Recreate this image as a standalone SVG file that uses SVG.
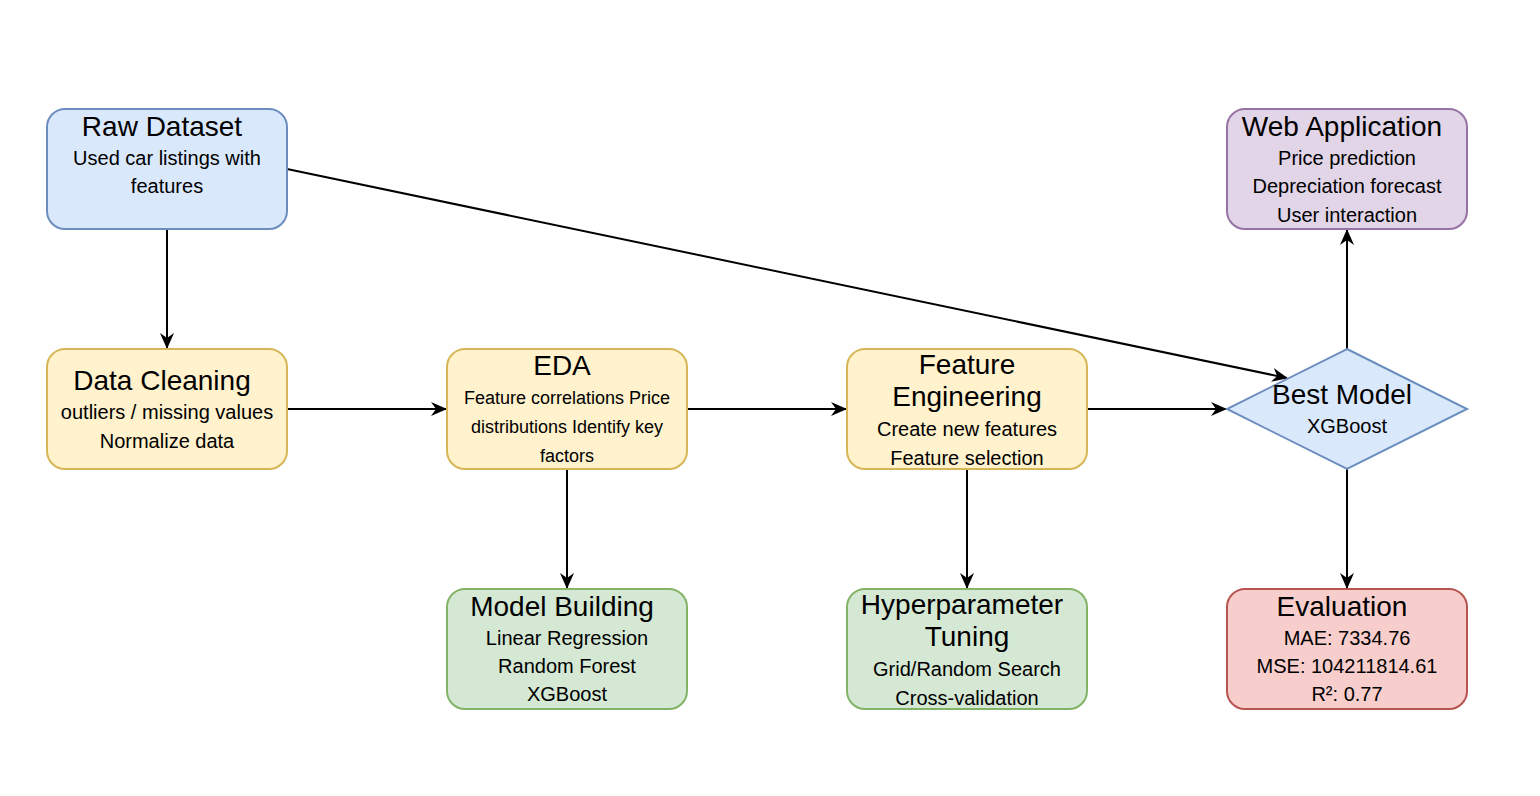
<svg xmlns="http://www.w3.org/2000/svg" width="1540" height="796" viewBox="0 0 1540 796">
<defs>
<style>
.t{font-family:"Liberation Sans",Arial,Helvetica,sans-serif;font-size:28px;fill:#000;text-anchor:middle}
.s{font-family:"Liberation Sans",Arial,Helvetica,sans-serif;font-size:20px;fill:#000;text-anchor:middle}
.s18{font-size:18px}
.blue{fill:#dae8fc;stroke:#6c8ebf;stroke-width:2}
.yel{fill:#fff2cc;stroke:#d6b656;stroke-width:2}
.grn{fill:#d5e8d4;stroke:#82b366;stroke-width:2}
.pur{fill:#e1d5e7;stroke:#9673a6;stroke-width:2}
.red{fill:#f8cecc;stroke:#b85450;stroke-width:2}
.e{fill:none;stroke:#000;stroke-width:2;marker-end:url(#arr)}
</style>
<marker id="arr" viewBox="0 0 16 14" refX="15" refY="7" markerWidth="16" markerHeight="14" markerUnits="userSpaceOnUse" orient="auto">
<path d="M0,0 L16,7 L0,14 L5,7 Z" fill="#000"/>
</marker>
</defs>
<rect width="1540" height="796" fill="#fff"/>
<g id="edges">
<path class="e" d="M167,229 L167,348"/>
<path class="e" d="M287,169 L1287,378"/>
<path class="e" d="M287,409 L446,409"/>
<path class="e" d="M687,409 L846,409"/>
<path class="e" d="M1087,409 L1226,409"/>
<path class="e" d="M567,469 L567,588"/>
<path class="e" d="M967,469 L967,588"/>
<path class="e" d="M1347,349 L1347,230"/>
<path class="e" d="M1347,469 L1347,588"/>
</g>
<g id="raw">
<rect class="blue" x="47" y="109" width="240" height="120" rx="18"/>
<text class="t" x="162" y="136">Raw Dataset</text>
<text class="s" x="167" y="165">Used car listings with</text>
<text class="s" x="167" y="193">features</text>
</g>
<g id="cleaning">
<rect class="yel" x="47" y="349" width="240" height="120" rx="18"/>
<text class="t" x="162" y="390">Data Cleaning</text>
<text class="s" x="167" y="419">outliers / missing values</text>
<text class="s" x="167" y="448">Normalize data</text>
</g>
<g id="eda">
<rect class="yel" x="447" y="349" width="240" height="120" rx="18"/>
<text class="t" x="562" y="375">EDA</text>
<text class="s s18" x="567" y="404">Feature correlations Price</text>
<text class="s s18" x="567" y="433">distributions Identify key</text>
<text class="s s18" x="567" y="462">factors</text>
</g>
<g id="fe">
<rect class="yel" x="847" y="349" width="240" height="120" rx="18"/>
<text class="t" x="967" y="374">Feature</text>
<text class="t" x="967" y="406">Engineering</text>
<text class="s" x="967" y="436">Create new features</text>
<text class="s" x="967" y="465">Feature selection</text>
</g>
<g id="best">
<path class="blue" d="M1347,349 L1467,409 L1347,469 L1227,409 Z"/>
<text class="t" x="1342" y="404">Best Model</text>
<text class="s" x="1347" y="433">XGBoost</text>
</g>
<g id="web">
<rect class="pur" x="1227" y="109" width="240" height="120" rx="18"/>
<text class="t" x="1342" y="136">Web Application</text>
<text class="s" x="1347" y="165">Price prediction</text>
<text class="s" x="1347" y="193">Depreciation forecast</text>
<text class="s" x="1347" y="222">User interaction</text>
</g>
<g id="model">
<rect class="grn" x="447" y="589" width="240" height="120" rx="18"/>
<text class="t" x="562" y="616">Model Building</text>
<text class="s" x="567" y="645">Linear Regression</text>
<text class="s" x="567" y="673">Random Forest</text>
<text class="s" x="567" y="701">XGBoost</text>
</g>
<g id="hyper">
<rect class="grn" x="847" y="589" width="240" height="120" rx="18"/>
<text class="t" x="962" y="614">Hyperparameter</text>
<text class="t" x="967" y="646">Tuning</text>
<text class="s" x="967" y="676">Grid/Random Search</text>
<text class="s" x="967" y="705">Cross-validation</text>
</g>
<g id="eval">
<rect class="red" x="1227" y="589" width="240" height="120" rx="18"/>
<text class="t" x="1342" y="616">Evaluation</text>
<text class="s" x="1347" y="645">MAE: 7334.76</text>
<text class="s" x="1347" y="673">MSE: 104211814.61</text>
<text class="s" x="1347" y="701">R²: 0.77</text>
</g>
</svg>
